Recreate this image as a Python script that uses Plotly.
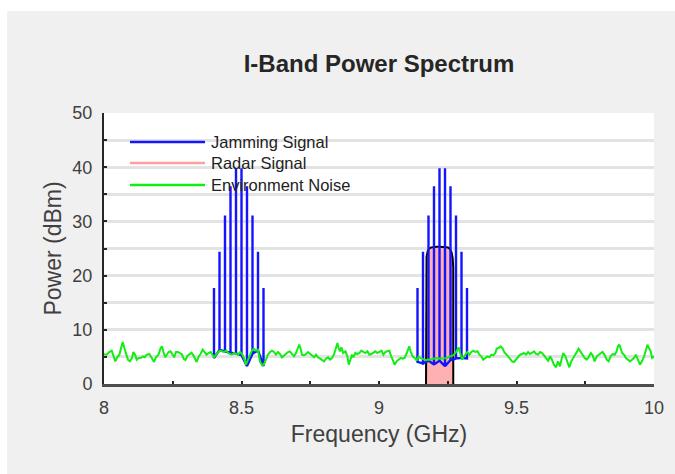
import plotly.graph_objects as go

# ---------------- data ----------------
# Jamming signal: comb of spectral lines in two clusters
jam_left_freq = [8.40, 8.42, 8.44, 8.46, 8.48, 8.50, 8.52, 8.54, 8.56, 8.58]
jam_left_peak = [17.7, 24.4, 31.1, 36.5, 39.8, 39.8, 36.5, 31.1, 24.4, 17.7]
jam_left_base = [4.8, 6.3, 6.0, 5.8, 5.6, 5.3, 3.3, 5.6, 6.2, 3.3]

jam_right_freq = [9.14, 9.16, 9.18, 9.20, 9.22, 9.24, 9.26, 9.28, 9.30, 9.32]
jam_right_peak = [17.7, 24.4, 31.1, 36.5, 39.8, 39.8, 36.5, 31.1, 24.4, 17.7]
jam_right_base = [4.1, 3.8, 4.3, 3.6, 4.3, 3.3, 4.4, 4.7, 4.8, 4.7]

# Radar signal: rounded rectangular spectrum
radar_freq = [9.171, 9.171, 9.173, 9.177, 9.183, 9.190, 9.200, 9.210, 9.220,
              9.230, 9.240, 9.251, 9.258, 9.264, 9.268, 9.270, 9.270]
radar_power = [0, 21.5, 23.5, 24.5, 25.0, 25.2, 25.3, 25.3, 25.3,
               25.3, 25.3, 25.2, 24.9, 24.3, 23.2, 21.5, 0]

# Environment noise
noise_freq = [
    8.000, 8.010, 8.019, 8.028, 8.034, 8.041, 8.048, 8.056, 8.062, 8.068,
    8.074, 8.080, 8.087, 8.094, 8.102, 8.107, 8.113, 8.119, 8.126, 8.133,
    8.141, 8.148, 8.155, 8.165, 8.170, 8.177, 8.182, 8.189, 8.198, 8.206,
    8.211, 8.216, 8.223, 8.228, 8.235, 8.242, 8.250, 8.255, 8.262, 8.269,
    8.276, 8.284, 8.289, 8.296, 8.303, 8.310, 8.318, 8.325, 8.332, 8.337,
    8.344, 8.351, 8.359, 8.366, 8.373, 8.380, 8.388,
    8.400, 8.407, 8.415, 8.422, 8.429, 8.436, 8.444, 8.451, 8.458, 8.465,
    8.473, 8.480, 8.487, 8.495, 8.502, 8.509, 8.516, 8.524, 8.531, 8.538,
    8.545, 8.553, 8.560, 8.567, 8.575, 8.582, 8.589, 8.596, 8.604, 8.611,
    8.618, 8.625, 8.633, 8.640, 8.647, 8.655, 8.662, 8.669, 8.676, 8.684,
    8.691, 8.698, 8.706, 8.710, 8.715, 8.720, 8.727, 8.735, 8.742, 8.749,
    8.757, 8.764, 8.771, 8.778, 8.786,
    8.793, 8.800, 8.807, 8.815, 8.822, 8.829, 8.836, 8.844, 8.849, 8.853,
    8.858, 8.863, 8.870, 8.878, 8.885, 8.890, 8.895, 8.902, 8.907, 8.914,
    8.921, 8.929, 8.936, 8.943, 8.950, 8.958, 8.965, 8.972, 8.979, 8.987,
    8.994, 9.001, 9.009, 9.016, 9.023, 9.030, 9.038, 9.042, 9.050, 9.057,
    9.064, 9.072, 9.079, 9.086, 9.093, 9.101, 9.106, 9.110, 9.115, 9.122,
    9.130, 9.137, 9.144, 9.150, 9.160, 9.170, 9.178,
    9.186, 9.198, 9.210, 9.222, 9.234, 9.246, 9.258, 9.270, 9.282, 9.290,
    9.295, 9.302, 9.307, 9.314, 9.321, 9.329, 9.336, 9.343, 9.350, 9.358,
    9.365, 9.372, 9.379, 9.387, 9.394, 9.401, 9.409, 9.416, 9.423, 9.428,
    9.435, 9.442, 9.450, 9.455, 9.462, 9.469, 9.476, 9.484, 9.491, 9.498,
    9.506, 9.513, 9.520, 9.527, 9.535, 9.542, 9.549, 9.557, 9.564, 9.571,
    9.578, 9.586,
    9.593, 9.600, 9.607, 9.615, 9.622, 9.629, 9.636, 9.644, 9.651, 9.658,
    9.665, 9.670, 9.678, 9.685, 9.692, 9.699, 9.707, 9.714, 9.721, 9.726,
    9.733, 9.741, 9.748, 9.755, 9.762, 9.770, 9.777, 9.784, 9.792, 9.799,
    9.806, 9.813, 9.821, 9.828, 9.835, 9.842, 9.850, 9.857, 9.864, 9.869,
    9.874, 9.879, 9.884, 9.891, 9.898, 9.905, 9.913, 9.920, 9.927, 9.934,
    9.942, 9.949, 9.956, 9.964, 9.971, 9.976, 9.980, 9.988, 9.993, 10.000,
]
noise_power = [
    5.50, 5.41, 5.90, 6.15, 5.29, 4.18, 4.92, 5.41, 6.64, 7.75,
    6.64, 5.72, 4.49, 4.18, 4.80, 5.90, 5.41, 4.49, 4.80, 4.80,
    5.10, 4.92, 5.41, 5.53, 5.04, 4.49, 4.06, 4.92, 5.41, 6.64,
    6.95, 5.90, 4.92, 5.41, 5.90, 6.03, 5.29, 4.92, 5.90, 5.90,
    5.72, 5.41, 4.67, 4.43, 5.17, 5.53, 5.78, 5.29, 4.55, 4.06,
    5.04, 5.53, 6.33, 5.90, 5.41, 5.72, 5.90,
    4.92, 5.41, 5.90, 6.15, 6.03, 5.90, 6.15, 5.72, 5.53, 5.41,
    5.72, 5.53, 5.41, 5.90, 5.53, 4.80, 3.57, 4.49, 5.41, 6.15,
    6.52, 6.15, 6.33, 4.18, 3.44, 3.69, 4.49, 5.41, 5.90, 6.15,
    5.90, 5.41, 5.90, 5.53, 4.92, 5.29, 5.72, 5.90, 6.03, 5.41,
    5.10, 5.72, 6.64, 7.26, 6.52, 5.41, 5.29, 5.53, 5.90, 5.53,
    5.29, 4.92, 5.41, 4.92, 4.67,
    4.49, 4.18, 4.67, 4.92, 4.49, 4.80, 5.41, 6.64, 7.56, 6.64,
    6.03, 6.76, 5.72, 6.03, 5.10, 3.57, 4.49, 5.41, 4.92, 5.72,
    5.53, 5.72, 6.15, 5.90, 5.72, 6.03, 5.41, 5.53, 5.72, 6.03,
    5.72, 5.90, 6.15, 5.41, 5.90, 6.03, 6.15, 5.41, 4.49, 3.57,
    4.18, 4.49, 4.80, 4.67, 4.80, 5.72, 6.64, 6.95, 6.03, 5.10,
    4.80, 4.30, 5.10, 4.80, 4.60, 4.40, 4.50,
    4.49, 4.67, 4.80, 4.67, 4.67, 4.80, 5.10, 5.29, 6.03, 6.76,
    5.72, 4.49, 4.92, 5.41, 5.90, 5.41, 5.90, 6.15, 5.90, 6.03,
    5.41, 5.10, 4.49, 4.80, 5.10, 4.92, 5.41, 5.29, 5.72, 6.52,
    6.64, 6.95, 6.52, 5.90, 5.41, 5.10, 4.67, 4.18, 4.06, 4.49,
    4.92, 5.41, 5.53, 5.72, 5.41, 5.90, 5.53, 5.72, 6.03, 5.53,
    5.41, 5.90,
    5.72, 5.29, 4.80, 4.30, 5.10, 4.49, 3.57, 3.08, 4.18, 3.26,
    4.80, 5.72, 5.10, 3.87, 3.08, 4.18, 4.80, 5.41, 6.03, 6.52,
    5.90, 5.41, 4.80, 4.49, 4.92, 5.72, 5.29, 4.18, 5.10, 5.41,
    5.72, 5.90, 5.29, 4.49, 4.18, 5.10, 5.53, 5.41, 6.03, 6.95,
    7.26, 6.33, 5.72, 5.41, 4.80, 4.49, 4.18, 4.49, 4.80, 5.41,
    4.49, 3.57, 4.18, 5.10, 6.33, 7.26, 6.76, 6.03, 4.80, 5.10,
]

x_tickvals = [8, 8.5, 9, 9.5, 10]
x_ticktext = ["8", "8.5", "9", "9.5", "10"]
y_tickvals = [0, 10, 20, 30, 40, 50]
y_ticktext = ["0", "10", "20", "30", "40", "50"]

series_names = ["Jamming Signal", "Radar Signal", "Environment Noise"]
series_colors = ["#1414ff", "#ff9e9e", "#11ee11"]

# ---------------- build traces ----------------
def comb(freqs, peaks, bases):
    xs, ys = [], []
    for f, p, b in zip(freqs, peaks, bases):
        xs += [f, f, f]
        ys += [b, p, b]
    return xs, ys

lx, ly = comb(jam_left_freq, jam_left_peak, jam_left_base)
rx, ry = comb(jam_right_freq, jam_right_peak, jam_right_base)
jam_x = lx + [None] + rx
jam_y = ly + [None] + ry

FONT = "Liberation Sans, Arial, sans-serif"

fig = go.Figure()

fig.add_trace(go.Scatter(
    x=radar_freq, y=radar_power, mode="lines", fill="toself",
    fillcolor="#ffb0b0", line=dict(color="black", width=2),
    name=series_names[1], showlegend=False, hoverinfo="skip"))

fig.add_trace(go.Scatter(
    x=jam_x, y=jam_y, mode="lines",
    line=dict(color=series_colors[0], width=2.4),
    name=series_names[0], showlegend=False))

fig.add_trace(go.Scatter(
    x=noise_freq, y=noise_power, mode="lines",
    line=dict(color=series_colors[2], width=2),
    name=series_names[2], showlegend=False))

# ---------------- layout ----------------
L, R, T, B = 104, 21, 113, 90
W, H = 675, 474
pw, ph = W - L - R, H - T - B

def px_x(p):  # pixel -> paper x
    return (p - L) / pw

def px_y(p):  # pixel -> paper y
    return (H - B - p) / ph

shapes = [
    dict(type="rect", xref="paper", yref="paper",
         x0=px_x(7), x1=px_x(W + 5), y0=px_y(H + 5), y1=px_y(11),
         fillcolor="#f0f0f0", line=dict(width=0), layer="below"),
    dict(type="rect", xref="paper", yref="paper",
         x0=0, x1=1, y0=0, y1=1,
         fillcolor="white", line=dict(width=0), layer="below"),
]

annotations = []
legend_rows_px = [142, 163, 185]
for name, color, ypx in zip(series_names, series_colors, legend_rows_px):
    shapes.append(dict(type="line", xref="paper", yref="paper",
                       x0=px_x(130), x1=px_x(205), y0=px_y(ypx), y1=px_y(ypx),
                       line=dict(color=color, width=2.5)))
    annotations.append(dict(text=name, xref="paper", yref="paper",
                            x=px_x(209), y=px_y(ypx), xanchor="left",
                            yanchor="middle", showarrow=False,
                            font=dict(family=FONT, size=16.5, color="#222222")))

fig.update_layout(
    width=W, height=H,
    margin=dict(l=L, r=R, t=T, b=B, pad=0),
    paper_bgcolor="white", plot_bgcolor="white",
    showlegend=False,
    title=dict(text="<b>I-Band Power Spectrum</b>", x=379 / W,
               xanchor="center", y=1 - 64 / H, yanchor="middle",
               font=dict(family=FONT, size=24, color="#262626")),
    shapes=shapes, annotations=annotations,
    xaxis=dict(range=[8, 10], tickvals=x_tickvals, ticktext=x_ticktext,
               showgrid=False, zeroline=False,
               showline=True, linecolor="#4d4d4d", linewidth=3,
               ticks="inside", ticklen=3, tickwidth=2, tickcolor="#262626",
               minor=dict(dtick=0.25, ticks="inside", ticklen=3, tickwidth=2,
                          tickcolor="#262626", showgrid=False),
               tickfont=dict(family=FONT, size=18, color="#404040"),
               ticklabelstandoff=5,
               title=dict(text="Frequency (GHz)", standoff=10,
                          font=dict(family=FONT, size=23, color="#404040"))),
    yaxis=dict(range=[0, 50], tickvals=y_tickvals, ticktext=y_ticktext,
               showgrid=True, gridcolor="#e3e3e3", gridwidth=2.5,
               zeroline=False,
               showline=True, linecolor="#262626", linewidth=2,
               ticks="inside", ticklen=3, tickwidth=2, tickcolor="#262626",
               minor=dict(dtick=5, ticks="inside", ticklen=3, tickwidth=2,
                          tickcolor="#262626", showgrid=True,
                          gridcolor="#e3e3e3", gridwidth=2.5),
               tickfont=dict(family=FONT, size=18, color="#404040"),
               ticklabelstandoff=6,
               title=dict(text="Power (dBm)", standoff=4,
                          font=dict(family=FONT, size=23, color="#404040"))),
)

fig.write_html("out.html")
